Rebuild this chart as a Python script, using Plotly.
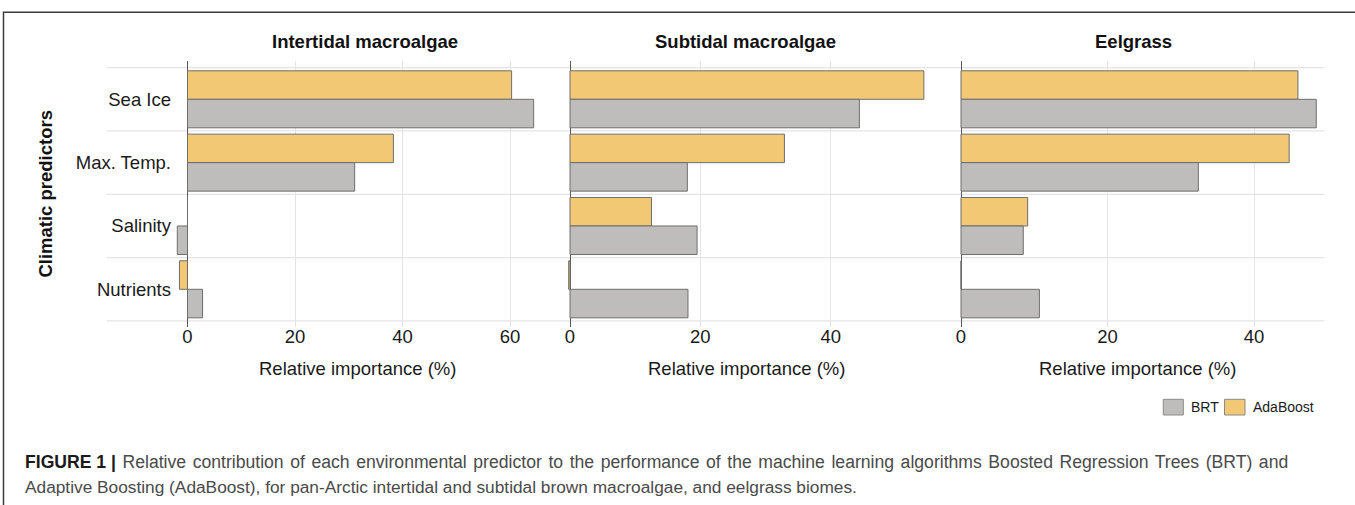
import plotly.graph_objects as go

# ---------------- data ----------------
predictors = ["Sea Ice", "Max. Temp.", "Salinity", "Nutrients"]
panels = ["Intertidal macroalgae", "Subtidal macroalgae", "Eelgrass"]

intertidal_brt = [64.4, 31.1, -1.9, 2.8]
intertidal_ada = [60.3, 38.3, 0.0, -1.5]
subtidal_brt = [44.4, 18.0, 19.5, 18.1]
subtidal_ada = [54.3, 32.9, 12.5, -0.2]
eelgrass_brt = [48.5, 32.4, 8.5, 10.7]
eelgrass_ada = [46.0, 44.8, 9.1, 0.0]

x_ticks = [0, 20, 40, 60]
x_title = "Relative importance (%)"
y_title = "Climatic predictors"
legend_labels = ["BRT", "AdaBoost"]
caption_bold = "FIGURE 1 |"
caption_line1 = (" Relative contribution of each environmental predictor to the performance of the "
                 "machine learning algorithms Boosted Regression Trees (BRT) and")
caption_line2 = ("Adaptive Boosting (AdaBoost), for pan-Arctic intertidal and subtidal brown "
                 "macroalgae, and eelgrass biomes.")

# ---------------- style ----------------
W, H = 1355, 505
FONT = "Liberation Sans, Arial, Helvetica, sans-serif"
BRT_COLOR = "#BEBDBB"
ADA_COLOR = "#F2C874"
EDGE = "#6E6E6E"
GRID = "#E4E4E4"
TXT = "#1a1a1a"


def fx(px):
    return px / W


def fy(py):
    return 1 - py / H


# panel geometry (pixel positions): domain left/right, pixel of x=0, px per unit
geo = [
    dict(left=174, right=550, zero=187.5, scale=5.375, title_x=365, axis_title_x=358),
    dict(left=552, right=940, zero=570.0, scale=6.5175, title_x=745.5, axis_title_x=746),
    dict(left=946, right=1324.3, zero=961.0, scale=7.325, title_x=1133.7, axis_title_x=1137),
]
PLOT_TOP, PLOT_BOTTOM = 61.3, 327.3

series = [(intertidal_ada, intertidal_brt), (subtidal_ada, subtidal_brt), (eelgrass_ada, eelgrass_brt)]

fig = go.Figure()
for i, ((ada, brt), g) in enumerate(zip(series, geo)):
    xa = "x" if i == 0 else f"x{i+1}"
    ya = "y" if i == 0 else f"y{i+1}"
    fig.add_trace(go.Bar(
        y=predictors, x=ada, orientation="h", name=legend_labels[1],
        marker=dict(color=ADA_COLOR, line=dict(color=EDGE, width=1)),
        xaxis=xa, yaxis=ya, showlegend=False, offsetgroup="ada",
    ))
    fig.add_trace(go.Bar(
        y=predictors, x=brt, orientation="h", name=legend_labels[0],
        marker=dict(color=BRT_COLOR, line=dict(color=EDGE, width=1)),
        xaxis=xa, yaxis=ya, showlegend=False, offsetgroup="brt",
    ))

layout = dict(
    width=W, height=H, margin=dict(l=0, r=0, t=0, b=0),
    paper_bgcolor="white", plot_bgcolor="rgba(0,0,0,0)",
    barmode="group", bargap=0.1, bargroupgap=0,
    font=dict(family=FONT, size=18.5, color=TXT),
    showlegend=False,
)

for i, g in enumerate(geo):
    sfx = "" if i == 0 else str(i + 1)
    x0 = (g["left"] - g["zero"]) / g["scale"]
    x1 = (g["right"] - g["zero"]) / g["scale"]
    layout["xaxis" + sfx] = dict(
        domain=[fx(g["left"]), fx(g["right"])], range=[x0, x1],
        tickvals=x_ticks, ticks="", showgrid=True, gridcolor=GRID, gridwidth=1,
        zeroline=True, zerolinecolor="#5a5a5a", zerolinewidth=1,
        showline=False, anchor="y" + sfx, tickfont=dict(size=18.5, color=TXT),
        ticklabelstandoff=-4, fixedrange=True,
    )
    layout["yaxis" + sfx] = dict(
        domain=[fy(PLOT_BOTTOM), fy(PLOT_TOP)],
        type="category", categoryorder="array", categoryarray=predictors,
        range=[3.6, -0.6], showgrid=False, zeroline=False, ticks="",
        showticklabels=(i == 0), anchor="x" + sfx,
        tickfont=dict(size=18.5, color=TXT), ticklabelstandoff=2,
        matches=None if i == 0 else "y", fixedrange=True,
    )

fig.update_layout(**layout)

shapes = []
# horizontal separators between predictor groups, spanning all panels
for k in range(len(predictors) + 1):
    yv = k - 0.5
    shapes.append(dict(type="line", xref="paper", yref="y", x0=fx(107), x1=fx(1324.3),
                       y0=yv, y1=yv, line=dict(color=GRID, width=1.2), layer="below"))
# outer frame
shapes.append(dict(type="rect", xref="paper", yref="paper", x0=fx(3.5), x1=fx(1365),
                   y0=fy(520), y1=fy(12.3), line=dict(color="#3c3c3c", width=1.5),
                   fillcolor="rgba(0,0,0,0)", layer="above"))
# legend keys
shapes.append(dict(type="rect", xref="paper", yref="paper", x0=fx(1163.3), x1=fx(1183.3),
                   y0=fy(415), y1=fy(399.3), line=dict(color="#8a8a8a", width=1), fillcolor=BRT_COLOR))
shapes.append(dict(type="rect", xref="paper", yref="paper", x0=fx(1224.5), x1=fx(1245),
                   y0=fy(415), y1=fy(399.3), line=dict(color="#8a8a8a", width=1), fillcolor=ADA_COLOR))

ann = []
for name, g in zip(panels, geo):
    ann.append(dict(text=f"<b>{name}</b>", x=fx(g["title_x"]), y=fy(41.5), xref="paper", yref="paper",
                    xanchor="center", yanchor="middle", showarrow=False,
                    font=dict(size=18.5, color="#111", family=FONT)))
    ann.append(dict(text=x_title, x=fx(g["axis_title_x"]), y=fy(368.5), xref="paper", yref="paper",
                    xanchor="center", yanchor="middle", showarrow=False,
                    font=dict(size=18.5, color=TXT, family=FONT)))
ann.append(dict(text=f"<b>{y_title}</b>", x=fx(44.6), y=fy(194), xref="paper", yref="paper",
                xanchor="center", yanchor="middle", textangle=-90, showarrow=False,
                font=dict(size=18.5, color="#111", family=FONT)))
ann.append(dict(text=legend_labels[0], x=fx(1188.5), y=fy(407), xref="paper", yref="paper",
                xanchor="left", yanchor="middle", showarrow=False,
                font=dict(size=14, color=TXT, family=FONT)))
ann.append(dict(text=legend_labels[1], x=fx(1250.5), y=fy(407), xref="paper", yref="paper",
                xanchor="left", yanchor="middle", showarrow=False,
                font=dict(size=14, color=TXT, family=FONT)))
ann.append(dict(text=(f"<b><span style='color:#1a1a1a'>{caption_bold}</span></b>"
                      f"<span style='word-spacing:1.7px'>{caption_line1}</span>"),
                x=fx(23), y=fy(461.5), xref="paper", yref="paper",
                xanchor="left", yanchor="middle", showarrow=False, align="left",
                font=dict(size=17.6, color="#4a4a4a", family=FONT)))
ann.append(dict(text=caption_line2, x=fx(23), y=fy(486.5), xref="paper", yref="paper",
                xanchor="left", yanchor="middle", showarrow=False, align="left",
                font=dict(size=17.3, color="#4a4a4a", family=FONT)))

fig.update_layout(shapes=shapes, annotations=ann)
fig.write_html("out.html", config={"displayModeBar": False, "staticPlot": True},
               post_script="document.body.style.margin='0px';document.body.style.overflow='hidden';")
